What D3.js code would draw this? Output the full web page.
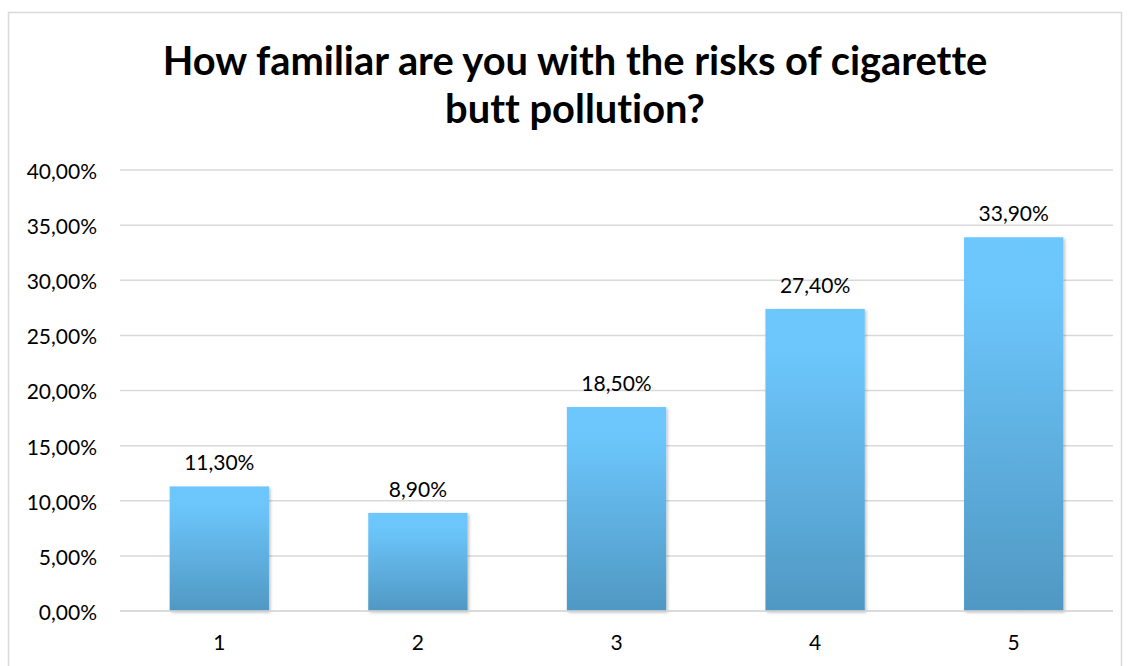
<!DOCTYPE html>
<html>
<head>
<meta charset="utf-8">
<script src="https://cdn.jsdelivr.net/npm/d3@7/dist/d3.min.js"></script>
<style>
  html, body { margin: 0; padding: 0; background: #fff; }
  svg { display: block; }
  text { font-family: Lato, "Open Sans", "Liberation Sans", sans-serif; fill: #000; font-variant-ligatures: none; }
</style>
</head>
<body>
<svg id="chart" width="1130" height="666"></svg>
<script>
// Survey answers on a 1–5 familiarity scale
const categories = ["1", "2", "3", "4", "5"];
const shares = [11.3, 8.9, 18.5, 27.4, 33.9];
const yTicks = [0, 5, 10, 15, 20, 25, 30, 35, 40];
const titleLines = ["How familiar are you with the risks of cigarette", "butt pollution?"];

const svg = d3.select("#chart");
const plot = { left: 120, right: 1113, top: 170, bottom: 611 };
const labelSize = 21;

const fmt = v => v.toFixed(2).replace(".", ",") + "%";

// Chart frame
svg.append("rect")
  .attr("x", 8.5).attr("y", 12.5)
  .attr("width", 1113).attr("height", 670)
  .attr("fill", "#fff").attr("stroke", "#d9d9d9").attr("stroke-width", 1.5);

// Bar gradient: light sky blue on top fading to a deeper blue
const defs = svg.append("defs");
const grad = defs.append("linearGradient")
  .attr("id", "barFill").attr("x1", 0).attr("y1", 0).attr("x2", 0).attr("y2", 1);
grad.append("stop").attr("offset", "0%").attr("stop-color", "#6cc7fc");
grad.append("stop").attr("offset", "15%").attr("stop-color", "#6cc6fb");
grad.append("stop").attr("offset", "100%").attr("stop-color", "#5098c3");

const shadow = defs.append("filter").attr("id", "barShadow")
  .attr("x", "-10%").attr("y", "-10%").attr("width", "130%").attr("height", "130%");
shadow.append("feDropShadow")
  .attr("dx", 1.5).attr("dy", 1.5).attr("stdDeviation", 1.5)
  .attr("flood-color", "#000").attr("flood-opacity", 0.25);

const x = d3.scaleBand()
  .domain(categories)
  .range([plot.left, plot.right])
  .paddingInner(0.5)
  .paddingOuter(0.25);

const y = d3.scaleLinear()
  .domain([0, 40])
  .range([plot.bottom, plot.top]);

// Horizontal gridlines
svg.append("g")
  .selectAll("line")
  .data(yTicks)
  .join("line")
  .attr("x1", plot.left).attr("x2", plot.right)
  .attr("y1", d => y(d)).attr("y2", d => y(d))
  .attr("stroke", "#d9d9d9").attr("stroke-width", 1.5);

// Y axis labels
const yAxis = svg.append("g")
  .attr("transform", `translate(${plot.left},0)`)
  .call(d3.axisLeft(y).tickValues(yTicks).tickFormat(fmt).tickSize(0).tickPadding(23));
yAxis.select(".domain").remove();
yAxis.selectAll("text")
  .attr("font-size", labelSize)
  .attr("dy", "0.4em")
  .style("font-family", "Lato, 'Open Sans', sans-serif")
  .attr("fill", "#000");

// Bars
svg.append("g")
  .selectAll("rect")
  .data(shares)
  .join("rect")
  .attr("x", (d, i) => x(categories[i]))
  .attr("y", d => y(d))
  .attr("width", x.bandwidth())
  .attr("height", d => y(0) - y(d))
  .attr("fill", "url(#barFill)")
  .attr("filter", "url(#barShadow)");

// Value labels above bars
svg.append("g")
  .selectAll("text")
  .data(shares)
  .join("text")
  .attr("x", (d, i) => x(categories[i]) + x.bandwidth() / 2)
  .attr("y", d => y(d) - 16)
  .attr("text-anchor", "middle")
  .attr("font-size", labelSize)
  .text(fmt);

// X axis baseline and labels
svg.append("line")
  .attr("x1", plot.left).attr("x2", plot.right)
  .attr("y1", plot.bottom).attr("y2", plot.bottom)
  .attr("stroke", "#d9d9d9").attr("stroke-width", 1.5);

const xAxis = svg.append("g")
  .attr("transform", `translate(0,${plot.bottom})`)
  .call(d3.axisBottom(x).tickSize(0).tickPadding(24));
xAxis.select(".domain").remove();
xAxis.selectAll("text")
  .attr("font-size", labelSize)
  .style("font-family", "Lato, 'Open Sans', sans-serif")
  .attr("fill", "#000");

// Title, two lines
const title = svg.append("g");
const t1 = title.append("text")
  .attr("x", 575).attr("y", 75)
  .attr("text-anchor", "middle")
  .attr("font-size", 36).attr("font-weight", 700)
  .text(titleLines[0]);
// fit the first line to its width, use same size for the second line
const target = 825;
const len = t1.node().getComputedTextLength();
const size = 36 * target / len;
t1.attr("font-size", size);
title.append("text")
  .attr("x", 575).attr("y", 123)
  .attr("text-anchor", "middle")
  .attr("font-size", size).attr("font-weight", 700)
  .text(titleLines[1]);
</script>
</body>
</html>
